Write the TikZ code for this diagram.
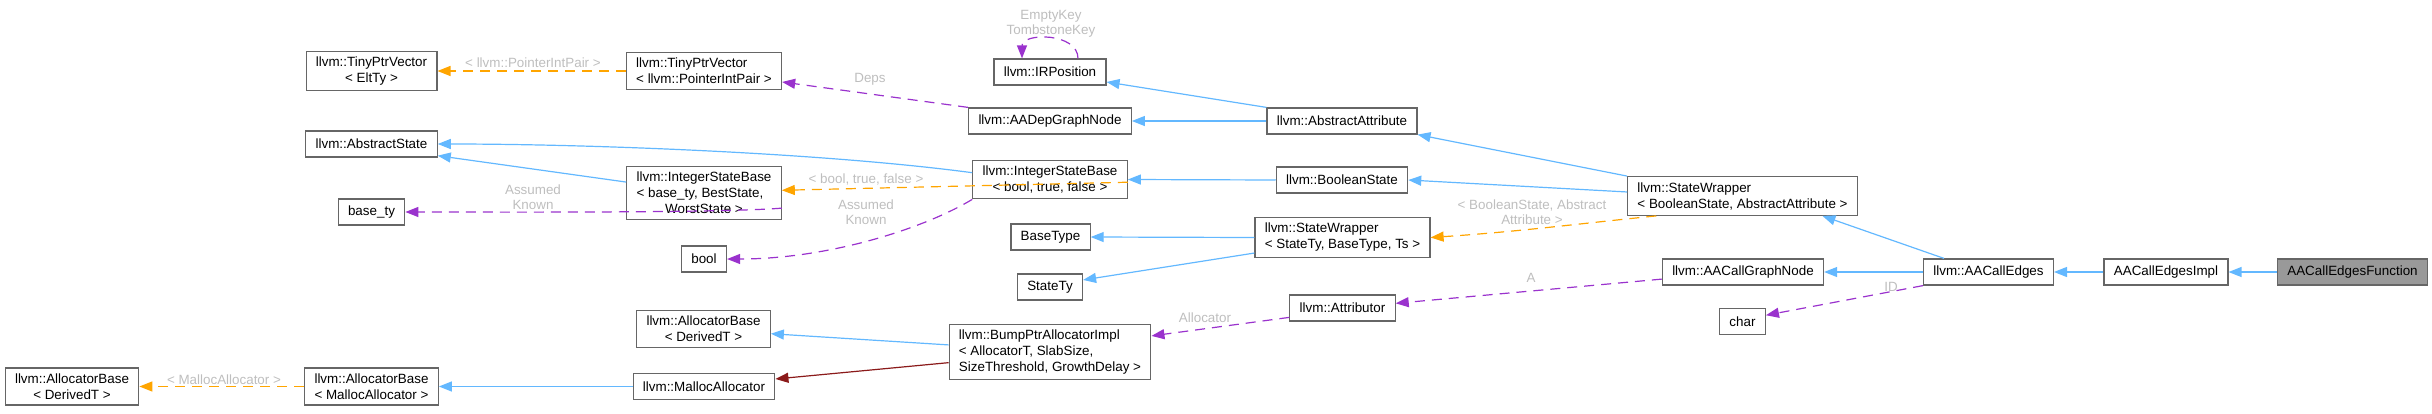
\documentclass[tikz,border=0pt]{standalone}
\usepackage{fontspec}
\setmainfont{Liberation Sans}
\usetikzlibrary{arrows.meta}
\definecolor{dxblue}{RGB}{99,184,255}
\definecolor{dxpurple}{RGB}{154,50,205}
\definecolor{dxorange}{RGB}{255,165,0}
\definecolor{dxred}{RGB}{139,26,26}
\definecolor{dxedge}{RGB}{102,102,102}
\definecolor{dxfocus}{RGB}{153,153,153}
\definecolor{dxlabel}{RGB}{190,190,190}
\newcommand{\lastline}[1]{\hfill#1\hfill\null}
\tikzset{
    classbox/.style={rectangle, draw=dxedge, fill=white, line width=0.6pt, align=left, font=\fontsize{6.7}{8}\selectfont, inner xsep=4.9pt, inner ysep=2.8pt, minimum height=13pt},
    focusbox/.style={classbox, fill=dxfocus},
    lbl/.style={font=\fontsize{6.7}{7.5}\selectfont, text=dxlabel, align=center, inner sep=0pt},
    arr/.style={-{Triangle[length=6.5pt, width=5pt]}, line width=0.6pt, color=dxblue},
    arr_priv/.style={arr, color=dxred},
    arr_use/.style={arr, color=dxpurple, dash pattern=on 5pt off 3.5pt},
    arr_tpl/.style={arr, color=dxorange, dash pattern=on 5pt off 3.5pt}
}

\begin{document}
\begin{tikzpicture}[x=0.5pt, y=-0.5pt]
        \useasboundingbox (0,0) rectangle (2432,413);
        \node[classbox] (allocderiv)  at (72,386.5)   {llvm::AllocatorBase\\\lastline{< DerivedT >}};
        \node[classbox] (tpvelt)      at (371.5,71)   {llvm::TinyPtrVector\\\lastline{< EltTy >}};
        \node[classbox] (absstate)    at (371.5,144)  {llvm::AbstractState};
        \node[classbox] (basety)      at (371.5,212)  {base\_ty};
        \node[classbox] (allocmalloc) at (371.5,386.5) {llvm::AllocatorBase\\\lastline{< MallocAllocator >}};
        \node[classbox] (tpvpip)      at (704,71)     {llvm::TinyPtrVector\\\lastline{< llvm::PointerIntPair >}};
        \node[classbox] (isbbase)     at (704,193)    {llvm::IntegerStateBase\\< base\_ty, BestState,\\\lastline{WorstState >}};
        \node[classbox] (boolty)      at (704,259)    {bool};
        \node[classbox] (allocderiv2) at (703.5,329)  {llvm::AllocatorBase\\\lastline{< DerivedT >}};
        \node[classbox] (mallocalloc) at (704,386.5)  {llvm::MallocAllocator};
        \node[classbox] (irpos)       at (1050,72)    {llvm::IRPosition};
        \node[classbox] (depnode)     at (1050,121)   {llvm::AADepGraphNode};
        \node[classbox] (isbbool)     at (1050,179.5) {llvm::IntegerStateBase\\\lastline{< bool, true, false >}};
        \node[classbox] (basetype)    at (1050.5,237) {BaseType};
        \node[classbox] (statety)     at (1050,287)   {StateTy};
        \node[classbox] (bumpalloc)   at (1050,352)   {llvm::BumpPtrAllocatorImpl\\< AllocatorT, SlabSize,\\\lastline{SizeThreshold, GrowthDelay >}};
        \node[classbox] (absattr)     at (1342,121)   {llvm::AbstractAttribute};
        \node[classbox] (boolstate)   at (1342,180)   {llvm::BooleanState};
        \node[classbox] (swstate)     at (1342.5,237.5) {llvm::StateWrapper\\\lastline{< StateTy, BaseType, Ts >}};
        \node[classbox] (attributor)  at (1342.5,308) {llvm::Attributor};
        \node[classbox] (swbool)      at (1742.5,196) {llvm::StateWrapper\\\lastline{< BooleanState, AbstractAttribute >}};
        \node[classbox] (cgnode)      at (1743,272)   {llvm::AACallGraphNode};
        \node[classbox] (charty)      at (1742.5,321.5) {char};
        \node[classbox] (calledges)   at (1988.5,272) {llvm::AACallEdges};
        \node[classbox] (edgesimpl)   at (2166,272)   {AACallEdgesImpl};
        \node[focusbox] (edgesfunc)   at (2352.5,272) {AACallEdgesFunction};

        \node[lbl] (lpip)    at (533,63)    {< llvm::PointerIntPair >};
        \node[lbl] (ldeps)   at (870,79)    {Deps};
        \node[lbl] (lkeys)   at (1051,24)   {EmptyKey\\TombstoneKey};
        \node[lbl] (lbtf)    at (866,179)   {< bool, true, false >};
        \node[lbl] (lak1)    at (533,197)   {Assumed\\Known};
        \node[lbl] (lak2)    at (866,212)   {Assumed\\Known};
        \node[lbl] (lbsaa)   at (1532,212)  {< BooleanState, Abstract\\Attribute >};
        \node[lbl] (la)      at (1531,278)  {A};
        \node[lbl] (lalloc)  at (1205,318)  {Allocator};
        \node[lbl] (lid)     at (1891,287)  {ID};
        \node[lbl] (lmalloc) at (224,380)   {< MallocAllocator >};

        \draw[arr_tpl] (tpvpip.west) -- (tpvelt.east);
        \draw[arr_use] (depnode.north west) -- (tpvpip.-8);
        \draw[arr] (absattr.west) -- (depnode.east);
        \draw[arr] (absattr.north west) -- (irpos.-10);
        \draw[arr_use] ([xshift=14pt]irpos.north) .. controls +(0,-26) and +(0,-26) .. ([xshift=-14pt]irpos.north);
        \draw[arr] (isbbase.172) -- (absstate.-10);
        \draw[arr] (isbbool.175) .. controls +(-150,-20) and +(150,0) .. (absstate.east);
        \draw[arr_tpl] (isbbool.-2) -- (isbbase.2);
        \draw[arr_use] (isbbase.-11) .. controls +(-60,5) and +(80,0) .. (basety.east);
        \draw[arr_use] (isbbool.south west) .. controls +(-50,30) and +(100,0) .. (boolty.east);
        \draw[arr] (boolstate.west) -- (isbbool.east);
        \draw[arr] (swbool.north west) -- (absattr.south east);
        \draw[arr] (swbool.178) -- (boolstate.east);
        \draw[arr_tpl] (swbool.193) .. controls +(-80,8) and +(90,-6) .. (swstate.east);
        \draw[arr] (swstate.west) -- (basetype.east);
        \draw[arr] (swstate.190) -- (statety.12);
        \draw[arr] (calledges.163) -- (swbool.-14);
        \draw[arr] (calledges.west) -- (cgnode.east);
        \draw[arr] (edgesimpl.west) -- (calledges.east);
        \draw[arr] (edgesfunc.west) -- (edgesimpl.east);
        \draw[arr_use] (calledges.south west) -- (charty.15);
        \draw[arr_use] (cgnode.185) -- (attributor.5);
        \draw[arr_use] (attributor.190) -- (bumpalloc.9);
        \draw[arr] (bumpalloc.176) -- (allocderiv2.-4);
        \draw[arr_priv] (bumpalloc.186) -- (mallocalloc.6);
        \draw[arr] (mallocalloc.west) -- (allocmalloc.east);
        \draw[arr_tpl] (allocmalloc.west) -- (allocderiv.east);
\end{tikzpicture}
\end{document}
